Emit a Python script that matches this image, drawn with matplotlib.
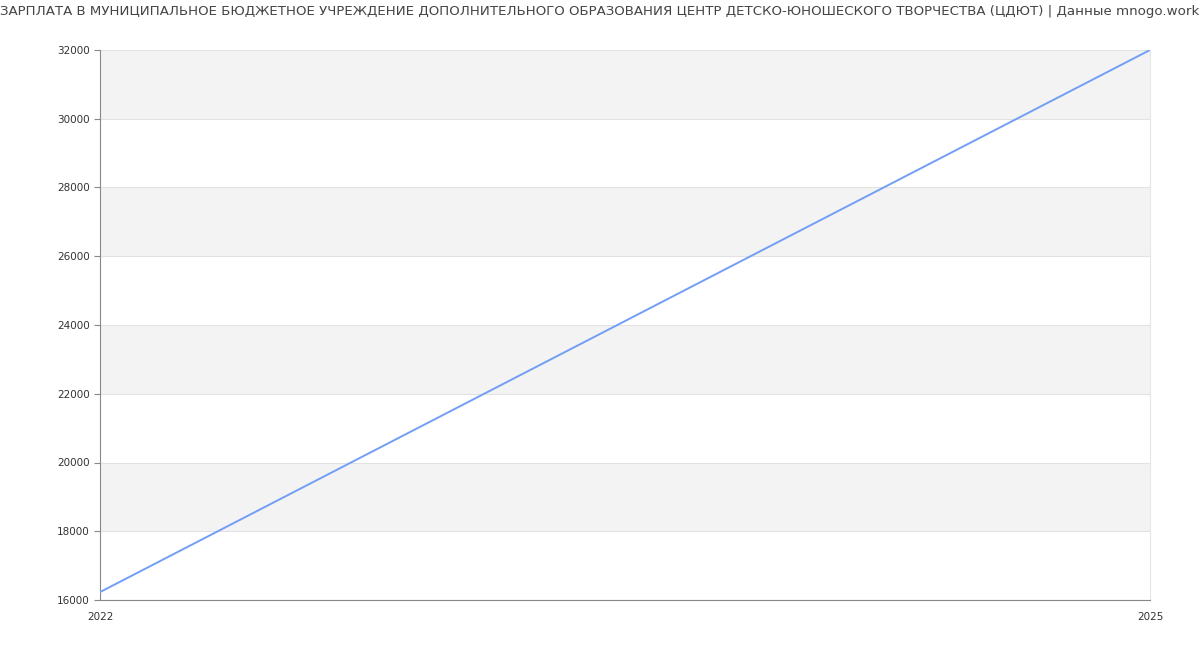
import matplotlib
matplotlib.use("Agg")
import matplotlib.pyplot as plt

years = [2022, 2025]
salary = [16230, 32000]
yticks = [16000, 18000, 20000, 22000, 24000, 26000, 28000, 30000, 32000]
title = ("ЗАРПЛАТА В МУНИЦИПАЛЬНОЕ БЮДЖЕТНОЕ УЧРЕЖДЕНИЕ ДОПОЛНИТЕЛЬНОГО ОБРАЗОВАНИЯ "
         "ЦЕНТР ДЕТСКО-ЮНОШЕСКОГО ТВОРЧЕСТВА (ЦДЮТ) | Данные mnogo.work")

fig = plt.figure(figsize=(12, 6.5), dpi=100)
ax = fig.add_axes([100/1200, 50/650, 1050/1200, 550/650])

for i in range(len(yticks) - 1):
    if i % 2 == 1:
        ax.axhspan(yticks[i], yticks[i+1], color="#f3f3f3", zorder=0, lw=0)
for y in yticks:
    ax.axhline(y, color="#e2e2e2", lw=0.8, zorder=1)

ax.plot(years, salary, color="#739ef5", lw=1.4, zorder=3)

ax.set_xlim(years[0], years[-1])
ax.set_ylim(yticks[0], yticks[-1])
ax.set_yticks(yticks)
ax.set_yticklabels([str(v) for v in yticks])
ax.set_xticks(years)
ax.set_xticklabels([str(v) for v in years])
ax.tick_params(axis="y", labelsize=7.5, colors="#333333", length=4, color="#888888", width=0.8)
ax.tick_params(axis="x", labelsize=7.5, colors="#333333", length=0, pad=9)

for s in ["left", "bottom"]:
    ax.spines[s].set_color("#888888")
    ax.spines[s].set_linewidth(0.8)
ax.spines["top"].set_visible(False)
ax.spines["right"].set_color("#e6e6e6")
ax.spines["right"].set_linewidth(0.8)

fig.text(0.5, 1 - 12/650, title, ha="center", va="center", fontsize=9.6, color="#444444")

fig.savefig("out.png", dpi=100)
